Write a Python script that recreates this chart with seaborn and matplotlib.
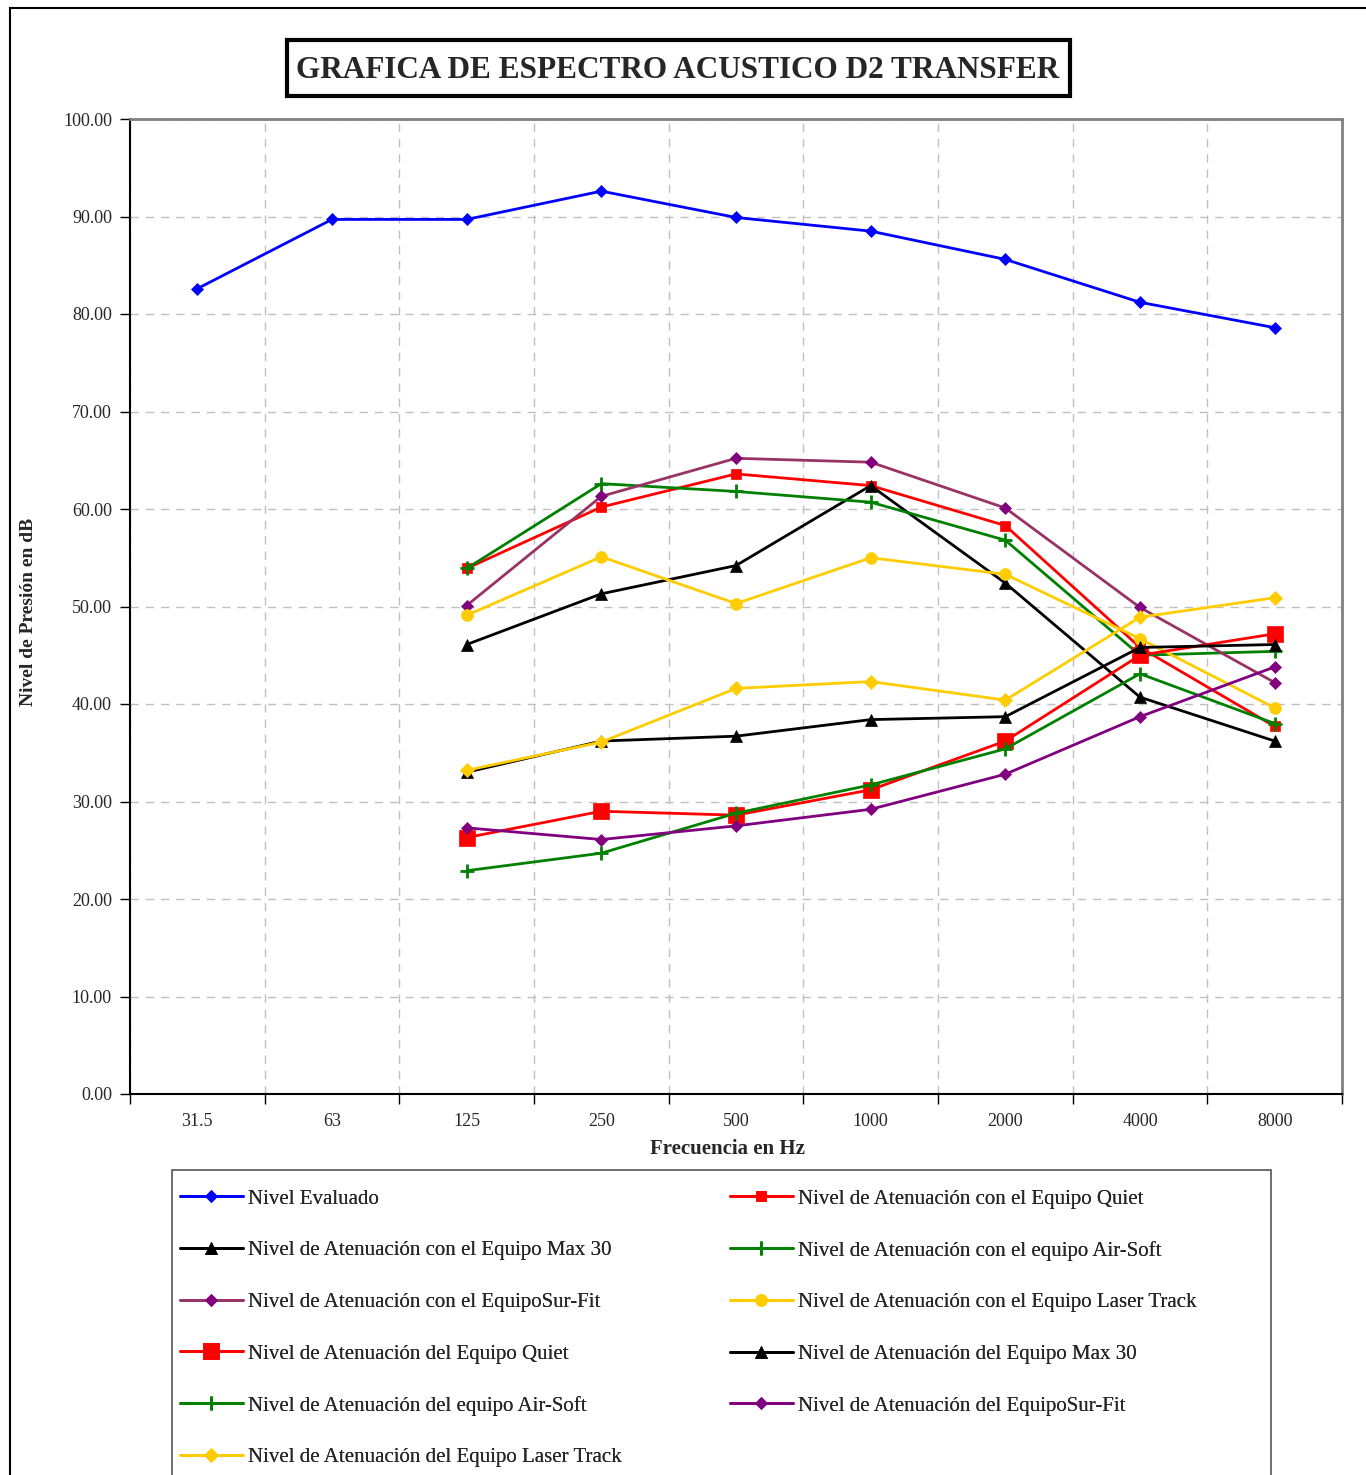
import numpy as np
import pandas as pd
import seaborn as sns
import matplotlib.pyplot as plt
from matplotlib.patches import Rectangle
from matplotlib.lines import Line2D

sns.set_style("white")
plt.rcParams['font.family'] = ['Liberation Serif', 'DejaVu Serif']

# Data
freqs = ['31.5', '63', '125', '250', '500', '1000', '2000', '4000', '8000']

nivel_evaluado = [82.6, 89.7, 89.7, 92.6, 89.9, 88.5, 85.6, 81.2, 78.6]

# "con el Equipo" series (start at 125 Hz)
con_quiet = [53.9, 60.2, 63.6, 62.4, 58.3, 45.8, 37.7]
con_max30 = [46.1, 51.3, 54.2, 62.4, 52.4, 40.7, 36.2]
con_airsoft = [53.9, 62.6, 61.8, 60.7, 56.8, 45.0, 45.4]
con_surfit = [50.1, 61.3, 65.2, 64.8, 60.1, 49.9, 42.2]
con_laser = [49.1, 55.1, 50.3, 55.0, 53.3, 46.7, 39.6]

# "del Equipo" series
del_quiet = [26.3, 29.0, 28.6, 31.2, 36.2, 45.0, 47.2]
del_max30 = [33.0, 36.2, 36.7, 38.4, 38.7, 45.8, 46.1]
del_airsoft = [22.9, 24.7, 28.8, 31.7, 35.4, 43.1, 38.0]
del_surfit = [27.3, 26.1, 27.5, 29.2, 32.8, 38.7, 43.8]
del_laser = [33.2, 36.1, 41.6, 42.3, 40.4, 48.9, 50.9]

labels = [
    'Nivel Evaluado',
    'Nivel de Atenuación con el Equipo Quiet',
    'Nivel de Atenuación con el Equipo Max 30',
    'Nivel de Atenuación con el equipo Air-Soft',
    'Nivel de Atenuación con el EquipoSur-Fit',
    'Nivel de Atenuación con el Equipo Laser Track',
    'Nivel de Atenuación del Equipo Quiet',
    'Nivel de Atenuación del Equipo Max 30',
    'Nivel de Atenuación del equipo Air-Soft',
    'Nivel de Atenuación del EquipoSur-Fit',
    'Nivel de Atenuación del Equipo Laser Track',
]
values = [nivel_evaluado, con_quiet, con_max30, con_airsoft, con_surfit, con_laser,
          del_quiet, del_max30, del_airsoft, del_surfit, del_laser]

# style per series: line color, marker, marker size, marker face color
styles = [
    ('#0000FF', 'D', 6, '#0000FF'),
    ('#FF0000', 's', 7, '#FF0000'),
    ('#000000', '^', 9, '#000000'),
    ('#008000', '+', 10, '#008000'),
    ('#993366', 'D', 6.5, '#800080'),
    ('#FFCC00', 'o', 8.5, '#FFCC00'),
    ('#FF0000', 's', 12, '#FF0000'),
    ('#000000', '^', 9, '#000000'),
    ('#008000', '+', 10, '#008000'),
    ('#800080', 'D', 6.5, '#800080'),
    ('#FFCC00', 'D', 7.5, '#FFCC00'),
]

fig = plt.figure(figsize=(13.66, 14.75), dpi=100)
ax = fig.add_axes([130/1366, 1 - 1094/1475, 1212/1366, 975/1475])

handles = []
for lab, vals, (col, mk, ms, mfc) in zip(labels, values, styles):
    pos = np.arange(len(freqs))[len(freqs) - len(vals):]
    df = pd.DataFrame({'pos': pos, 'db': vals})
    mew = 2 if mk == '+' else 0.5
    sns.lineplot(data=df, x='pos', y='db', ax=ax, color=col, lw=2, marker=mk,
                 markersize=ms, markerfacecolor=mfc, markeredgecolor=mfc,
                 markeredgewidth=mew, legend=False)
    handles.append(Line2D([], [], color=col, lw=2, marker=mk, markersize=ms,
                          markerfacecolor=mfc, markeredgecolor=mfc,
                          markeredgewidth=mew, label=lab))

ax.set_xlim(-0.5, len(freqs) - 0.5)
ax.set_ylim(0, 100)
ax.set_yticks(np.arange(0, 101, 10))
ax.set_yticklabels(['%.2f' % v for v in np.arange(0, 101, 10)], fontsize=13)
ax.set_xticks(np.arange(-0.5, len(freqs), 1))
ax.set_xticklabels([])
ax.set_xticks(np.arange(len(freqs)), minor=True)
ax.set_xticklabels(freqs, minor=True, fontsize=13)
ax.tick_params(axis='x', which='minor', length=0, pad=14)
ax.tick_params(axis='both', which='major', direction='out', length=7, width=1,
               color='black', left=True, bottom=True)
ax.tick_params(axis='y', pad=6)

ax.grid(True, axis='both', which='major', color='#c0c0c0', ls=(0, (6, 5)), lw=1)
ax.set_axisbelow(True)
for s in ['left', 'bottom']:
    ax.spines[s].set_color('black')
    ax.spines[s].set_linewidth(1.5)
for s in ['top', 'right']:
    ax.spines[s].set_color('#808080')
    ax.spines[s].set_linewidth(2)

ax.set_xlabel('Frecuencia en Hz', fontsize=15, fontweight='bold')
ax.set_ylabel('Nivel de Presión en dB', fontsize=14, fontweight='bold')
ax.xaxis.set_label_coords(0.4926, -0.046)
ax.yaxis.set_label_coords(-0.077, 0.494)

# title in a boxed frame
fig.patches.append(Rectangle((287/1366, 1 - 96/1475), 783/1366, 56/1475,
                             transform=fig.transFigure, fill=False,
                             ec='black', lw=3))
fig.text(678/1366, 1 - 71/1475, 'GRAFICA DE ESPECTRO ACUSTICO D2 TRANSFER',
         ha='center', va='center', fontsize=22.5, fontweight='bold')

# outer frame
fig.patches.append(Rectangle((10/1366, -0.05), 1.2, 1.05 - 8/1475,
                             transform=fig.transFigure, fill=False,
                             ec='black', lw=1.5))

# legend frame and two legend columns, filled row by row
fig.patches.append(Rectangle((172/1366, -0.05), 1099/1366, 0.05 + 1 - 1170/1475,
                             transform=fig.transFigure, fill=False,
                             ec='#555555', lw=1.2))
for idx, x0 in [([0, 2, 4, 6, 8, 10], 180), ([1, 3, 5, 7, 9], 730)]:
    lg = fig.legend([handles[i] for i in idx], [labels[i] for i in idx],
                    loc='upper left', bbox_to_anchor=(x0/1366, 1 - 1189/1475),
                    fontsize=15, frameon=False, handlelength=3.0,
                    handletextpad=0.25, labelspacing=1.54, borderpad=0,
                    borderaxespad=0)
    fig.add_artist(lg)

plt.savefig('out.png', dpi=100)
